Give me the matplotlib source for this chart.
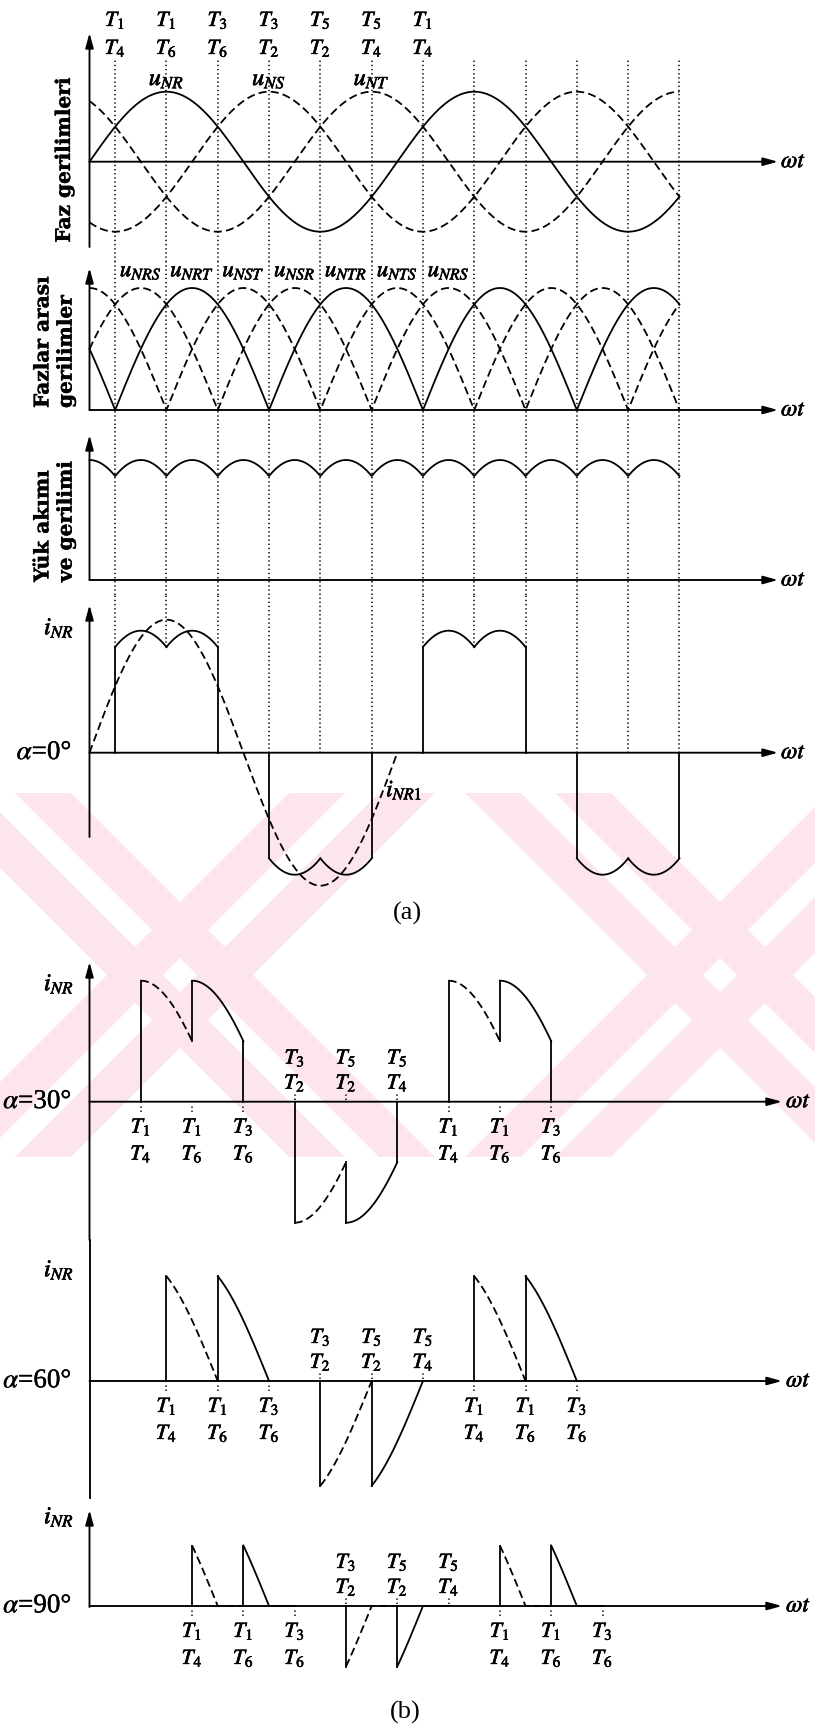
import numpy as np
import matplotlib
matplotlib.use("Agg")
import matplotlib.pyplot as plt
import matplotlib.patheffects as pe
from matplotlib.patches import Polygon

plt.rcParams['mathtext.fontset'] = 'stix'
plt.rcParams['font.family'] = ['Liberation Serif', 'DejaVu Serif']
plt.rcParams['lines.scale_dashes'] = False

# ---------------- data ----------------
END_DEG = 690
grid_angles = [30, 90, 150, 210, 270, 330, 390, 450, 510, 570, 630, 690]
top_hi = ['T_1', 'T_1', 'T_3', 'T_3', 'T_5', 'T_5', 'T_1']
top_lo = ['T_4', 'T_6', 'T_6', 'T_2', 'T_2', 'T_4', 'T_4']
top_angles = [30, 90, 150, 210, 270, 330, 390]

phase_names = ['u_{NR}', 'u_{NS}', 'u_{NT}']
phase_shift = [0, 120, 240]
phase_label_angles = [90, 210, 330]
phase_styles = ['solid', 'dashed', 'dashed']

line_names = ['u_{NRS}', 'u_{NRT}', 'u_{NST}', 'u_{NSR}', 'u_{NTR}', 'u_{NTS}', 'u_{NRS}']
line_label_angles = [60, 120, 180, 240, 300, 360, 420]
line_shift = [-30, 30, 90]
line_styles = ['dashed', 'solid', 'dashed']

seg_shift = [-30, 30]
alpha_a = 0
pulses_a = 4
fund_amp = 1.09
fund_end = 360
alphas_b = [30, 60, 90]
pulses_b = 3
below_hi = ['T_1', 'T_1', 'T_3', 'T_1', 'T_1', 'T_3']
below_lo = ['T_4', 'T_6', 'T_6', 'T_4', 'T_6', 'T_6']
below_offsets = [30, 90, 150, 390, 450, 510]
above_hi = ['T_3', 'T_5', 'T_5']
above_lo = ['T_2', 'T_2', 'T_4']
above_offsets = [210, 270, 330]

# background watermark motif (pale "X" shapes)
wm_centers = [180, 720]
wm_band = (793, 1157)

# ---------------- layout ----------------
W, H, DPI = 815, 1732, 100
fig = plt.figure(figsize=(W / DPI, H / DPI), dpi=DPI)
fig.patch.set_facecolor('white')
X0, PX60 = 89.5, 51.3


def deg(px):
    return (px - X0) / PX60 * 60.0


XLIM = (deg(0), deg(W))
LW = 1.3
AXLW = 1.35
DASH = (0, (5.8, 3.0))
DOT = (0, (1.0, 2.0))
K = 'black'
FX = [pe.withStroke(linewidth=0.45, foreground='black')]
FX2 = [pe.withStroke(linewidth=0.25, foreground='black')]

# watermark layer
bg = fig.add_axes([0, 0, 1, 1])
bg.set_xlim(0, W)
bg.set_ylim(H, 0)
bg.axis('off')
y0, y1 = wm_band
hh = y1 - y0
for cx in wm_centers:
    for d in (-1, 1):
        for off in (-45, 45):
            xt = cx + d * (-hh / 2) + off
            xb = cx + d * (hh / 2) + off
            poly = Polygon([[xt - 28, y0], [xt + 28, y0], [xb + 28, y1], [xb - 28, y1]],
                           closed=True, facecolor='#fce6eb', edgecolor='none', zorder=0)
            bg.add_patch(poly)


class Panel:
    def __init__(self, top, bottom, zero, amp):
        self.zero, self.amp = zero, amp
        self.ax = fig.add_axes([0, 1 - bottom / H, 1, (bottom - top) / H])
        self.ax.set_xlim(*XLIM)
        self.ax.set_ylim(self.v(bottom), self.v(top))
        self.ax.axis('off')

    def v(self, px):
        return (self.zero - px) / self.amp

    def axes_lines(self, ytop, ybot, xend, label_x, yarrow=True):
        ax = self.ax
        ap = dict(arrowstyle='-|>,head_length=0.8,head_width=0.22', lw=AXLW,
                  color=K, shrinkA=0, shrinkB=0, mutation_scale=11)
        ax.annotate('', xy=(deg(xend), 0), xytext=(0, 0), arrowprops=ap)
        if yarrow:
            ax.annotate('', xy=(0, self.v(ytop)), xytext=(0, self.v(ybot)),
                        arrowprops=ap)
        else:
            ax.plot([0, 0], [self.v(ytop), self.v(ybot)], color=K, lw=AXLW,
                    clip_on=False)
        ax.text(deg(label_x), 0, r'$\omega t$', fontsize=17, ha='left',
                va='center', clip_on=False, path_effects=FX)


def pulse_segments(alpha, n):
    out = []
    for k in range(n):
        s = 30 + alpha + 180 * k
        sign = 1 if k % 2 == 0 else -1
        segs = []
        for j, sh in enumerate(seg_shift):
            a0 = s + 60 * j
            th = np.linspace(a0, a0 + 60, 121)
            val = np.sin(np.radians(th - sh))
            val = np.maximum(val, 0) if sign > 0 else np.minimum(val, 0)
            segs.append((th, val))
        out.append(segs)
    return out


def draw_pulses(ax, pulses, first_style):
    for segs in pulses:
        (t1, v1), (t2, v2) = segs
        ax.plot([t1[0], t1[0]], [0, v1[0]], color=K, lw=LW)
        ax.plot(t1, v1, color=K, lw=LW, linestyle=first_style)
        ax.plot([t2[0], t2[0]], [v1[-1], v2[0]], color=K, lw=LW)
        ax.plot(t2, v2, color=K, lw=LW)
        ax.plot([t2[-1], t2[-1]], [v2[-1], 0], color=K, lw=LW)


def tex(ax, x, y, s, fs=15.5, **kw):
    ax.text(x, y, '$' + s + '$', fontsize=fs, ha='center', va='center',
            clip_on=False, path_effects=FX, **kw)


def txt(ax, x, y, s, fx=FX, **kw):
    ax.text(x, y, s, clip_on=False, path_effects=fx, **kw)


theta = np.linspace(0, END_DEG, 1381)

# ---- Panel 1: phase voltages ----
p1 = Panel(0, 262, 161.7, 70)
ax = p1.ax
for sh, st in zip(phase_shift, phase_styles):
    ax.plot(theta, np.sin(np.radians(theta - sh)), color=K, lw=LW,
            linestyle=DASH if st == 'dashed' else '-')
ax.vlines(grid_angles, p1.v(262), p1.v(60), colors=K, lw=1.1, linestyles=[DOT])
p1.axes_lines(33, 247, 778, 781)
for a, hi, lo in zip(top_angles, top_hi, top_lo):
    tex(ax, a, p1.v(20), hi)
    tex(ax, a, p1.v(48), lo)
for a, n in zip(phase_label_angles, phase_names):
    tex(ax, a, p1.v(80), n, fs=17.5)
txt(ax, deg(64), p1.v(160), 'Faz gerilimleri', fx=FX2, rotation=90, fontsize=14.5,
    family='DejaVu Serif', weight='bold', ha='center', va='center')

# ---- Panel 2: line voltages ----
p2 = Panel(262, 425, 410, 122)
ax = p2.ax
for sh, st in zip(line_shift, line_styles):
    ax.plot(theta, np.abs(np.sin(np.radians(theta - sh))), color=K, lw=LW,
            linestyle=DASH if st == 'dashed' else '-')
ax.vlines(grid_angles, p2.v(425), p2.v(262), colors=K, lw=1.1, linestyles=[DOT])
p2.axes_lines(268, 410, 778, 781)
for a, n in zip(line_label_angles, line_names):
    tex(ax, a, p2.v(271), n, fs=16.5)
txt(ax, deg(54), p2.v(408), 'Fazlar arası\ngerilimler', fx=FX2, rotation=90,
    fontsize=14.5, family='DejaVu Serif', weight='bold', ha='center',
    va='bottom', multialignment='left', linespacing=1.2)

# ---- Panel 3: load voltage ----
p3 = Panel(425, 595, 580, 120)
ax = p3.ax
env = np.max([np.abs(np.sin(np.radians(theta - sh))) for sh in line_shift], axis=0)
ax.plot(theta, env, color=K, lw=LW)
ax.vlines(grid_angles, p3.v(595), p3.v(425), colors=K, lw=1.1, linestyles=[DOT])
p3.axes_lines(435, 580, 778, 781)
txt(ax, deg(54), p3.v(582), 'Yük akımı\nve gerilimi', fx=FX2, rotation=90,
    fontsize=14.5, family='DejaVu Serif', weight='bold', ha='center',
    va='bottom', multialignment='left', linespacing=1.2)

# ---- Panel 4: alpha = 0 ----
p4 = Panel(595, 935, 752.7, 122)
ax = p4.ax
pul = pulse_segments(alpha_a, pulses_a)
draw_pulses(ax, pul, '-')
th_f = np.linspace(0, fund_end, 721)
ax.plot(th_f, fund_amp * np.sin(np.radians(th_f)), color=K, lw=LW, linestyle=DASH)
grid_low = []
for g in grid_angles:
    best = 0.0
    for segs in pul:
        for th, val in segs:
            if th[0] - 1e-9 <= g <= th[-1] + 1e-9:
                best = max(best, float(np.interp(g, th, val)))
    grid_low.append(best)
ax.vlines(grid_angles, grid_low, p4.v(595), colors=K, lw=1.1, linestyles=[DOT])
p4.axes_lines(605, 837, 778, 781)
txt(ax, deg(74), p4.v(628), r'$i_{NR}$', fontsize=17.5, ha='right', va='center')
txt(ax, deg(72), 0, r'$\alpha$=0°', fx=FX2, fontsize=19.5, ha='right', va='center')
txt(ax, deg(386), p4.v(790), r'$i_{NR1}$', fontsize=17, ha='left', va='center')
txt(ax, deg(407), p4.v(913), '(a)', fx=[], fontsize=19, ha='center', va='center')

# ---- Panels (b) ----
specs_b = [
    (935, 1240, 1101.7, 962, 1240, True, 984),
    (1240, 1500, 1381, 1240, 1498, False, 1270),
    (1500, 1732, 1606, 1510, 1607, True, 1517),
]
for alpha, (top, bot, zero, yt, yb, yarr, ilab) in zip(alphas_b, specs_b):
    pb = Panel(top, bot, zero, 121)
    ax = pb.ax
    draw_pulses(ax, pulse_segments(alpha, pulses_b), DASH)
    pb.axes_lines(yt, yb, 782, 786, yarrow=yarr)
    txt(ax, deg(74), pb.v(ilab), r'$i_{NR}$', fontsize=17.5, ha='right', va='center')
    txt(ax, deg(72), 0, r'$\alpha$=%d°' % alpha, fx=FX2, fontsize=19.5, ha='right',
        va='center')
    for off, hi, lo in zip(below_offsets, below_hi, below_lo):
        a = off + alpha
        ax.vlines([a], pb.v(zero + 10), pb.v(zero + 2), colors=K, lw=1.1,
                  linestyles=[DOT])
        tex(ax, a, pb.v(zero + 25), hi)
        tex(ax, a, pb.v(zero + 52), lo)
    for off, hi, lo in zip(above_offsets, above_hi, above_lo):
        a = off + alpha
        ax.vlines([a], pb.v(zero - 2), pb.v(zero - 9), colors=K, lw=1.1,
                  linestyles=[DOT])
        tex(ax, a, pb.v(zero - 44), hi)
        tex(ax, a, pb.v(zero - 19), lo)
    if alpha == alphas_b[-1]:
        txt(ax, deg(405), pb.v(1712), '(b)', fx=[], fontsize=19, ha='center',
            va='center')

fig.savefig('out.png', dpi=DPI, facecolor='white')
